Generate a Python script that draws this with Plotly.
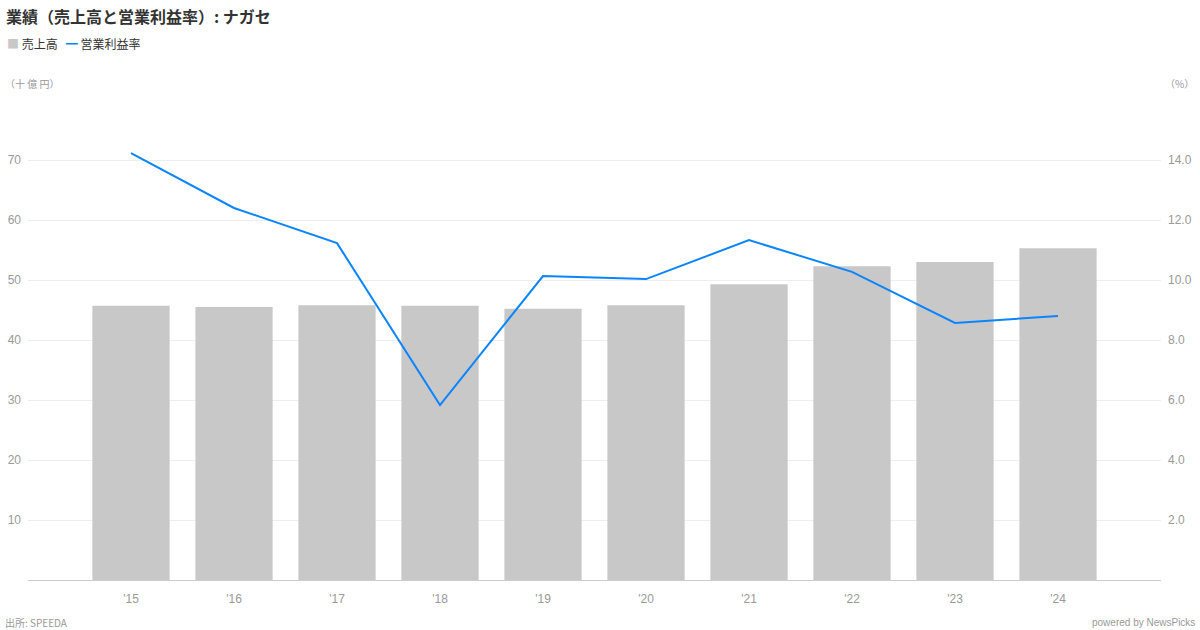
import plotly.graph_objects as go

years = ["'15", "'16", "'17", "'18", "'19", "'20", "'21", "'22", "'23", "'24"]
sales = [45.7, 45.5, 45.8, 45.7, 45.2, 45.8, 49.3, 52.3, 53.0, 55.3]
op_margin = [14.23, 12.4, 11.23, 5.83, 10.13, 10.03, 11.33, 10.27, 8.57, 8.8]
left_ticks = [10, 20, 30, 40, 50, 60, 70]
right_ticks = [2.0, 4.0, 6.0, 8.0, 10.0, 12.0, 14.0]

FONT = "Liberation Sans, Arial, Noto Sans CJK JP, sans-serif"
JP = "Noto Sans CJK JP, Liberation Sans, sans-serif"
BAR_C = "#c8c8c8"
LINE_C = "#0a84ff"
TICK_C = "#999999"

W, H = 1200, 630
l, r, t, b = 28, 39, 100, 50
pw, ph = W - l - r, H - t - b

def px(x, y):
    return (x - l) / pw, (H - b - y) / ph

fig = go.Figure()
fig.add_trace(go.Bar(x=years, y=sales, marker=dict(color=BAR_C, line=dict(width=0)),
                     name="売上高", yaxis="y", showlegend=False, hoverinfo="skip"))
fig.add_trace(go.Scatter(x=years, y=op_margin, mode="lines", line=dict(color=LINE_C, width=2),
                         name="営業利益率", yaxis="y2", showlegend=False, hoverinfo="skip"))

anns = [
    ("<b>業績（売上高と営業利益率）: ナガセ</b>", 4, 16, "left", dict(family=JP, size=16, color="#333333")),
    (f"<span style='color:{BAR_C}'>■</span> 売上高&nbsp;&nbsp;&nbsp;<span style='color:{LINE_C}'><b>━</b></span> 営業利益率",
     5, 44, "left", dict(family=JP, size=12, color="#333333")),
    ("（十 億 円）", 3, 84, "left", dict(family=JP, size=10, color=TICK_C)),
    ("（%）", 1196, 84, "right", dict(family=JP, size=10, color=TICK_C)),
    ("出所: SPEEDA", 3, 622, "left", dict(family=JP, size=10, color=TICK_C)),
    ("powered by NewsPicks", 1197, 622, "right", dict(family=FONT, size=10, color=TICK_C)),
]
annotations = []
for text, x, y, xa, f in anns:
    xx, yy = px(x, y)
    annotations.append(dict(text=text, x=xx, y=yy, xref="paper", yref="paper", showarrow=False,
                            xanchor=xa, yanchor="middle", font=f))

fig.update_layout(
    width=W, height=H,
    margin=dict(l=l, r=r, t=t, b=b, autoexpand=False),
    paper_bgcolor="white", plot_bgcolor="white",
    bargap=0.25,
    font=dict(family=FONT, color=TICK_C, size=12),
    xaxis=dict(range=[-1, 10], showline=True, linecolor="#cccccc", linewidth=1, automargin=False,
               showgrid=False, ticks="", ticklabelstandoff=8, tickfont=dict(size=12, color=TICK_C)),
    yaxis=dict(range=[0, 80], tickvals=left_ticks, ticktext=[str(v) for v in left_ticks],
               showgrid=True, gridcolor="#eeeeee", gridwidth=1, zeroline=False, automargin=False,
               ticks="", ticklabelstandoff=6, tickfont=dict(size=12, color=TICK_C)),
    yaxis2=dict(range=[0, 16], overlaying="y", side="right", tickvals=right_ticks, automargin=False,
                ticktext=[f"{v:.1f}" for v in right_ticks], showgrid=False, zeroline=False,
                ticks="", ticklabelstandoff=6, tickfont=dict(size=12, color=TICK_C)),
    annotations=annotations,
)

fig.write_html("out.html", config={"displayModeBar": False},
               post_script="document.body.style.margin='0';document.body.style.overflow='hidden';")
